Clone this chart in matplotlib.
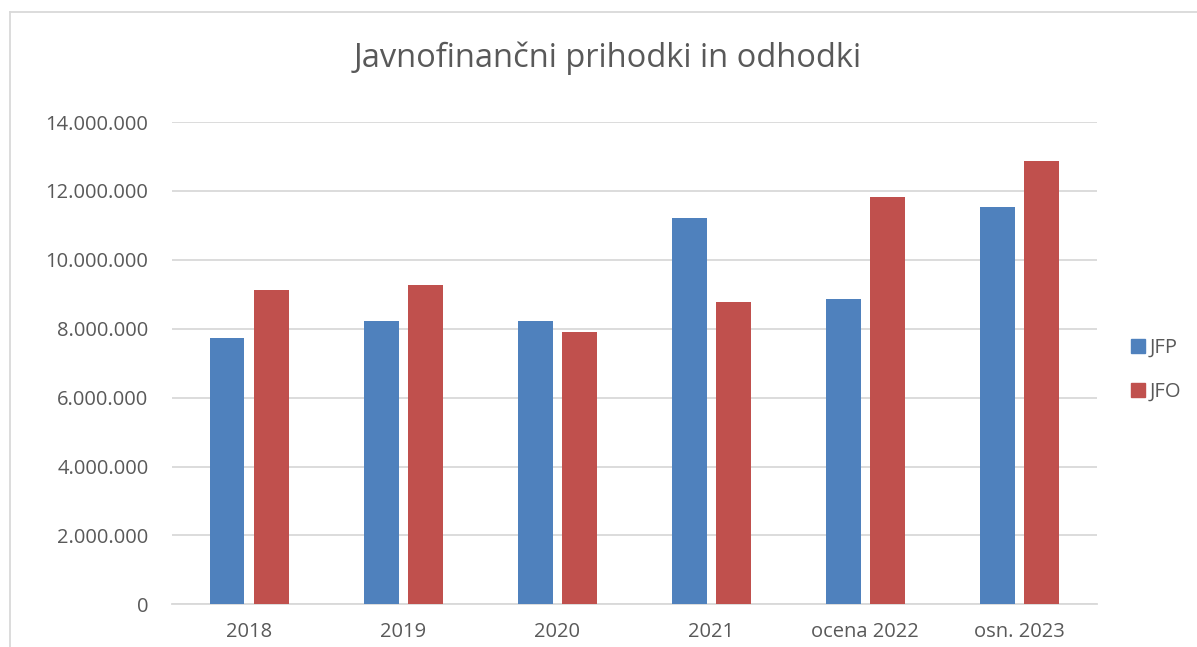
import matplotlib
matplotlib.use("Agg")
import matplotlib.pyplot as plt
import numpy as np
from matplotlib.lines import Line2D
from matplotlib.ticker import FuncFormatter

categories = ["2018", "2019", "2020", "2021", "ocena 2022", "osn. 2023"]
jfp = [7720000, 8220000, 8230000, 11220000, 8850000, 11530000]
jfo = [9110000, 9270000, 7900000, 8770000, 11810000, 12880000]
series_names = ["JFP", "JFO"]
title = "Javnofinančni prihodki in odhodki"

blue = "#4F81BD"
red = "#C0504D"
txt = "#595959"
grid = "#D9D9D9"

plt.rcParams['font.family'] = ['Open Sans', 'DejaVu Sans']

fig = plt.figure(figsize=(11.97, 6.47), dpi=100)
W, H = 1197, 647
ax = fig.add_axes([172 / W, (H - 604.3) / H, (1096.5 - 172) / W, (604.3 - 122) / H])

x = np.arange(len(categories))
bw = 0.227
off = 0.143
ax.bar(x - off, jfp, bw, color=blue, label=series_names[0], zorder=3)
ax.bar(x + off, jfo, bw, color=red, label=series_names[1], zorder=3)

ax.set_xlim(-0.5, len(categories) - 0.5)
ax.set_ylim(0, 14000000)
ax.set_yticks(np.arange(0, 14000001, 2000000))
ax.yaxis.set_major_formatter(FuncFormatter(lambda v, p: f"{int(v):,}".replace(",", ".")))
ax.grid(axis="y", color=grid, linewidth=1.3, zorder=0)
for s in ["top", "right", "left"]:
    ax.spines[s].set_visible(False)
ax.spines["bottom"].set_color(grid)
ax.spines["bottom"].set_linewidth(1.3)
ax.set_xticks(x)
ax.set_xticklabels(categories)
ax.tick_params(axis="both", length=0, labelsize=14.5, colors=txt)
ax.tick_params(axis="y", pad=17)
ax.tick_params(axis="x", pad=13)

fig.text(608 / W, 1 - 58 / H, title, ha="center", va="center", fontsize=23.5, color=txt)

handles = [Line2D([], [], marker="s", linestyle="none", markersize=10.5, color=c) for c in (blue, red)]
leg = fig.legend(handles, series_names, loc="center left", bbox_to_anchor=(1110 / W, 1 - 370 / H),
                 frameon=False, fontsize=14.5, labelspacing=1.2, handletextpad=0.05, handlelength=1.0)
for t in leg.get_texts():
    t.set_color(txt)

# chart border (left and top visible)
fig.add_artist(Line2D([10 / W, 10 / W], [0, 1 - 12 / H], transform=fig.transFigure, color=grid, linewidth=1.3))
fig.add_artist(Line2D([10 / W, 1], [1 - 12 / H, 1 - 12 / H], transform=fig.transFigure, color=grid, linewidth=1.3))

fig.savefig("out.png", dpi=100)
